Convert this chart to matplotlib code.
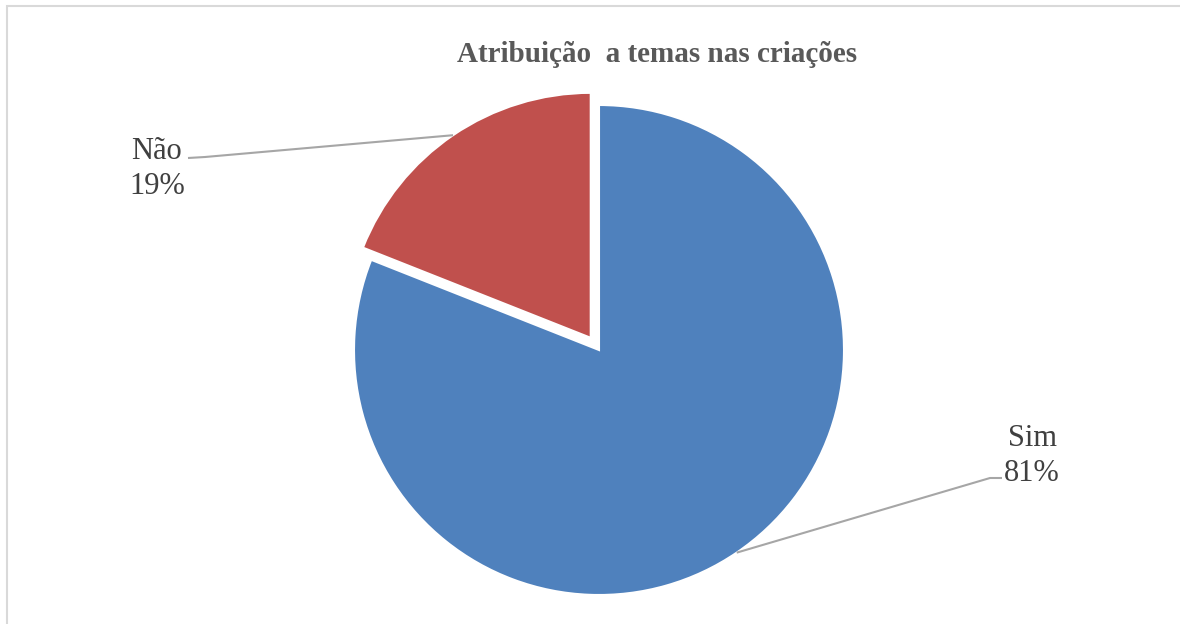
import numpy as np
import matplotlib
matplotlib.use("Agg")
import matplotlib.pyplot as plt
from matplotlib.patches import Rectangle

# Data
categories = ["Sim", "Não"]
values = [81, 19]
colors = ["#4F81BD", "#C0504D"]
title = "Atribuição  a temas nas criações"

W, H = 1180, 624
fig = plt.figure(figsize=(W / 100, H / 100), dpi=100)
fig.patch.set_facecolor("white")

ax = fig.add_axes([0, 0, 1, 1])
ax.set_xlim(0, W)
ax.set_ylim(0, H)
ax.set_aspect("equal")
ax.axis("off")

# frame (extends beyond right/bottom like the reference crop)
fig.patches.append(Rectangle((7 / W, -0.1), 1.2, (H - 6) / H + 0.1,
                             transform=fig.transFigure, fill=False,
                             edgecolor="#D9D9D9", linewidth=1.5, zorder=0))

center = (599, H - 350)
radius = 245
explode_frac = [0, 0.06]

wedges, _ = ax.pie(values, colors=colors, startangle=90, counterclock=False,
                   center=center, radius=radius,
                   explode=[e * radius for e in explode_frac],
                   wedgeprops=dict(edgecolor="white", linewidth=1.5))
ax.set_xlim(0, W)
ax.set_ylim(0, H)

total = sum(values)
text_color = "#404040"
font = dict(family=["Liberation Serif", "DejaVu Serif"])

# label layout: (text center, elbow point, line end)
label_layout = {
    "Sim": ((1032, H - 456), (990, H - 478), (1002, H - 478)),
    "Não": ((157, H - 169), (205, H - 157), (188, H - 158)),
}

for w, cat, v in zip(wedges, categories, values):
    mid = np.deg2rad((w.theta1 + w.theta2) / 2)
    cx, cy = w.center
    ax_pt = (cx + w.r * np.cos(mid), cy + w.r * np.sin(mid))
    (tx, ty), elbow, end = label_layout[cat]
    ax.plot([ax_pt[0], elbow[0], end[0]], [ax_pt[1], elbow[1], end[1]],
            color="#A6A6A6", linewidth=1.5, solid_capstyle="butt", zorder=3)
    ax.text(tx, ty, f"{cat}\n{v / total * 100:.0f}%", ha="center", va="center",
            fontsize=22, color=text_color, linespacing=1.25, **font)

ax.text(657, H - 54, title, ha="center", va="center", fontsize=21,
        fontweight="bold", color="#595959", **font)

fig.savefig("out.png", dpi=100, facecolor="white")
